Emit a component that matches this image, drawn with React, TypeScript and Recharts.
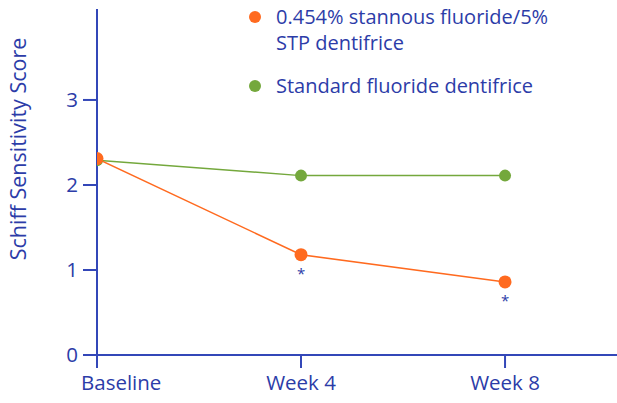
import React from "react";
import { LineChart, Line, XAxis, YAxis, Label, LabelList } from "recharts";

const weeks = [0, 4, 8];
const weekLabels = ["Baseline", "Week 4", "Week 8"];
const stannous = [2.31, 1.18, 0.86];
const standard = [2.29, 2.11, 2.11];
const significance = ["", "*", "*"];
const yTicks = [0, 1, 2, 3];
const legendItems = [
  { key: "stannous", lines: ["0.454% stannous fluoride/5%", "STP dentifrice"] },
  { key: "standard", lines: ["Standard fluoride dentifrice"] },
];

const BLUE = "#3347b8";
const TEXT = "#2c3ca8";
const ORANGE = "#ff6a1f";
const GREEN = "#74a83c";
const FONT = "'Open Sans', sans-serif";
const colors: Record<string, string> = { stannous: ORANGE, standard: GREEN };
const X_TICK_SIZE = 13;
const X_TICK_MARGIN = 2;

const data = weeks.map((w, i) => ({
  week: w,
  stannous: stannous[i],
  standard: standard[i],
  sig: significance[i],
}));

function XTick(props: any) {
  const { x, y, payload } = props;
  const idx = weeks.indexOf(payload.value);
  if (idx < 0) return null;
  const first = idx === 0;
  const top = y - X_TICK_MARGIN - X_TICK_SIZE;
  return (
    <g>
      <line x1={x} x2={x} y1={top} y2={top + X_TICK_SIZE} stroke={BLUE} strokeWidth={2} />
      <text
        x={first ? x - 16 : x}
        y={y}
        dy={20}
        textAnchor={first ? "start" : "middle"}
        fill={TEXT}
        fontSize={20.5}
        fontFamily={FONT}
      >
        {weekLabels[idx]}
      </text>
    </g>
  );
}

function YTick(props: any) {
  const { y, payload } = props;
  return (
    <text x={78} y={y} dy={7} textAnchor="end" fill={TEXT} fontSize={20.5} fontFamily={FONT}>
      {payload.value}
    </text>
  );
}

function Star(props: any) {
  const { x, y, value } = props;
  if (!value) return null;
  return (
    <text x={x} y={y} dy={24} textAnchor="middle" fill={TEXT} fontSize={15} fontFamily={FONT}>
      {value}
    </text>
  );
}

function ChartLegend() {
  return (
    <div
      style={{
        position: "absolute",
        top: 4,
        left: 249,
        fontFamily: FONT,
        color: TEXT,
        fontSize: 20,
        lineHeight: "26px",
      }}
    >
      {legendItems.map((it) => (
        <div key={it.key} style={{ display: "flex", alignItems: "flex-start", marginBottom: 17 }}>
          <span
            style={{
              width: 12,
              height: 12,
              borderRadius: 6,
              background: colors[it.key],
              marginTop: 7,
              marginRight: 15,
              flex: "none",
            }}
          />
          <div>
            {it.lines.map((t) => (
              <div key={t}>{t}</div>
            ))}
          </div>
        </div>
      ))}
    </div>
  );
}

export default function App() {
  return (
    <div style={{ position: "absolute", left: 0, top: 0, width: 617, height: 403, background: "#fff", overflow: "hidden" }}>
      <LineChart width={630} height={403} data={data} margin={{ top: 9, right: 0, left: 0, bottom: 18 }}>
        <XAxis
          dataKey="week"
          type="number"
          domain={[0, 10.45]}
          ticks={weeks}
          interval={0}
          height={30}
          stroke={BLUE}
          strokeWidth={2}
          tickSize={X_TICK_SIZE}
          tickMargin={X_TICK_MARGIN}
          tickLine={false}
          tick={<XTick />}
          allowDataOverflow
        />
        <YAxis
          type="number"
          domain={[0, 4.07]}
          ticks={yTicks}
          interval={0}
          width={97}
          stroke={BLUE}
          strokeWidth={2}
          tickSize={14}
          tickMargin={5}
          tick={<YTick />}
          allowDataOverflow
        >
          <Label
            content={() => (
              <text
                x={26}
                y={149}
                transform="rotate(-90 26 149)"
                textAnchor="middle"
                fill={TEXT}
                fontSize={21.5}
                fontFamily={FONT}
              >
                Schiff Sensitivity Score
              </text>
            )}
          />
        </YAxis>
        <Line
          dataKey="standard"
          stroke={GREEN}
          strokeWidth={1.5}
          dot={{ r: 6, fill: GREEN, stroke: "none" }}
          isAnimationActive={false}
        />
        <Line
          dataKey="stannous"
          stroke={ORANGE}
          strokeWidth={1.5}
          dot={{ r: 6.5, fill: ORANGE, stroke: "none" }}
          isAnimationActive={false}
        >
          <LabelList dataKey="sig" content={<Star />} />
        </Line>
      </LineChart>
      <ChartLegend />
    </div>
  );
}
